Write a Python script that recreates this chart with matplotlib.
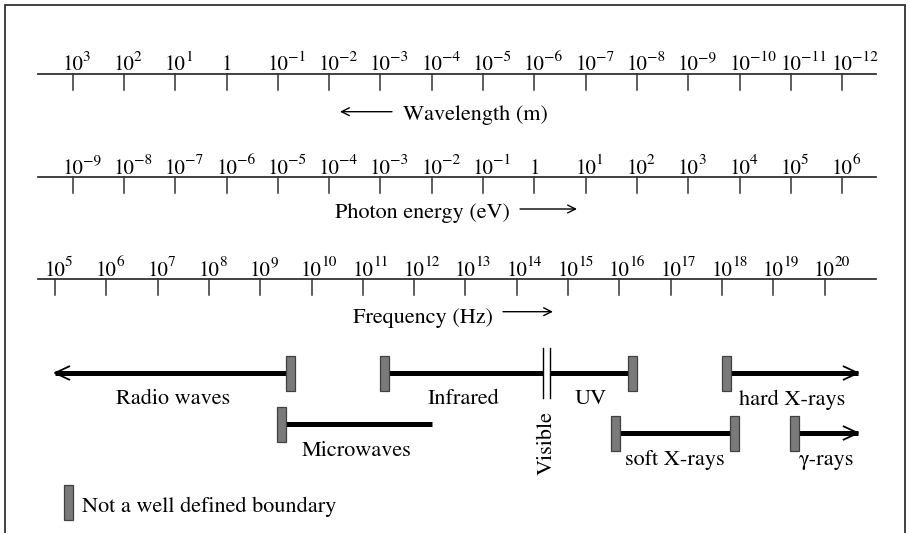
import matplotlib
matplotlib.use('Agg')
import matplotlib.pyplot as plt
from matplotlib.patches import Rectangle

plt.rcParams['font.family'] = ['STIXGeneral', 'DejaVu Serif']
plt.rcParams['mathtext.fontset'] = 'stix'

# ---------------- data ----------------
wavelength_exp = [3, 2, 1, 0, -1, -2, -3, -4, -5, -6, -7, -8, -9, -10, -11, -12]
energy_exp = [-9, -8, -7, -6, -5, -4, -3, -2, -1, 0, 1, 2, 3, 4, 5, 6]
frequency_exp = [5, 6, 7, 8, 9, 10, 11, 12, 13, 14, 15, 16, 17, 18, 19, 20]

# log10(frequency / Hz) at wavelength 1 m and at photon energy 1 eV (as drawn)
WL_ZERO = 8.345
EV_ZERO = 14.345

# bands: name, start, end (log10 Hz), start marker, end marker
band_names = ["Radio waves", "Microwaves", "Infrared", "UV",
              "soft X-rays", "hard X-rays", "γ-rays"]
band_start = [5.0, 9.42, 11.42, 14.65, 15.92, 18.09, 19.42]
band_end = [9.6, 12.35, 14.51, 16.25, 18.25, 20.65, 20.65]
band_start_mark = ["arrow", "box", "box", "none", "box", "box", "box"]
band_end_mark = ["box", "none", "none", "box", "box", "arrow", "arrow"]
visible_range = [14.51, 14.65]

# ---------------- layout ----------------
PX_PER_DEC = 51.3
PX0 = 55.0  # pixel of 10^5 Hz


def px2x(px):
    return 5 + (px - PX0) / PX_PER_DEC


W, H = 910, 533
fig = plt.figure(figsize=(W / 100, H / 100), dpi=100)
ax = fig.add_axes([0, 0, 1, 1])
ax.set_xlim(px2x(0), px2x(W))
ax.set_ylim(H, 0)
ax.axis('off')

axis_col = '#333333'
TICK_FS = 15
SUP_FS = 11
TEXT_FS = 16

# frame (left, top, right)
ax.plot([px2x(4.5), px2x(4.5), px2x(905), px2x(905)], [540, 5, 5, 540],
        color=axis_col, lw=1.3, solid_joinstyle='miter')


def draw_scale(y_line, positions, exps, special_one=True):
    ax.plot([px2x(38), px2x(876)], [y_line, y_line], color=axis_col, lw=1.3)
    for xp, e in zip(positions, exps):
        ax.plot([xp, xp], [y_line, y_line + 16], color=axis_col, lw=1.1)
        base_y = y_line - 3.5
        if e == 0 and special_one:
            ax.text(xp, base_y, "1", fontsize=TICK_FS, ha='center',
                    va='baseline')
        else:
            ax.text(xp, base_y, "10", fontsize=TICK_FS, ha='center',
                    va='baseline')
            sup = str(e).replace('-', '\u2212')
            ax.annotate(sup, xy=(xp, base_y),
                        xytext=(TICK_FS * 0.5 - 0.3, 7.0),
                        textcoords='offset points',
                        fontsize=SUP_FS, ha='left', va='baseline')


def caption_arrow(x0px, x1px, y):
    ax.annotate('', xy=(px2x(x1px), y), xytext=(px2x(x0px), y),
                arrowprops=dict(arrowstyle='->', lw=1.0, color='black',
                                mutation_scale=14, shrinkA=0, shrinkB=0))


# wavelength scale
wl_pos = [WL_ZERO - k for k in wavelength_exp]
draw_scale(74, wl_pos, wavelength_exp)
ax.text(px2x(475), 120, "Wavelength (m)", fontsize=TEXT_FS, ha='center',
        va='baseline')
caption_arrow(392, 340, 111.7)

# photon energy scale
ev_pos = [EV_ZERO + e for e in energy_exp]
draw_scale(177, ev_pos, energy_exp)
ax.text(px2x(422.5), 218, "Photon energy (eV)", fontsize=TEXT_FS,
        ha='center', va='baseline')
caption_arrow(520, 577, 209)

# frequency scale
draw_scale(279, frequency_exp, frequency_exp, special_one=False)
ax.text(px2x(422.5), 323, "Frequency (Hz)", fontsize=TEXT_FS, ha='center',
        va='baseline')
caption_arrow(503, 553, 311.7)

# ---------------- bands ----------------
band_row_y = [373, 424, 373, 373, 433, 373, 433]
BOX_W = 9 / PX_PER_DEC
BOX_H = 35
box_face = '#7a7a7a'
box_edge = '#404040'


def draw_box(xc, yc):
    ax.add_patch(Rectangle((xc - BOX_W / 2, yc - BOX_H / 2), BOX_W, BOX_H,
                           facecolor=box_face, edgecolor=box_edge, lw=0.9,
                           zorder=4))


def draw_head(xtip, y, direction):
    L = 15 / PX_PER_DEC
    ax.plot([xtip - direction * L, xtip, xtip - direction * L],
            [y - 7, y, y + 7], color='black', lw=1.3, zorder=5,
            solid_capstyle='butt')


for name, s, e, sm, em, y in zip(band_names, band_start, band_end,
                                 band_start_mark, band_end_mark, band_row_y):
    ax.plot([s, e], [y, y], color='black', lw=3.6, solid_capstyle='butt',
            zorder=3)
    if sm == 'box':
        draw_box(s, y)
    elif sm == 'arrow':
        draw_head(s, y, -1)
    if em == 'box':
        draw_box(e, y)
    elif em == 'arrow':
        draw_head(e, y, 1)
    ax.text((s + e) / 2, y + 31.5, name, fontsize=TEXT_FS, ha='center',
            va='baseline')

# visible
for xv in visible_range:
    ax.plot([xv, xv], [348, 398], color='black', lw=1.0, zorder=5)
ax.text(sum(visible_range) / 2, 443, "Visible", fontsize=TEXT_FS,
        rotation=90, ha='center', va='center')

# legend
ax.add_patch(Rectangle((px2x(63.5), 485), BOX_W, BOX_H,
                       facecolor=box_face, edgecolor=box_edge, lw=0.9))
ax.text(px2x(82), 512, "Not a well defined boundary", fontsize=TEXT_FS,
        ha='left', va='baseline')

fig.savefig('out.png', dpi=100)
